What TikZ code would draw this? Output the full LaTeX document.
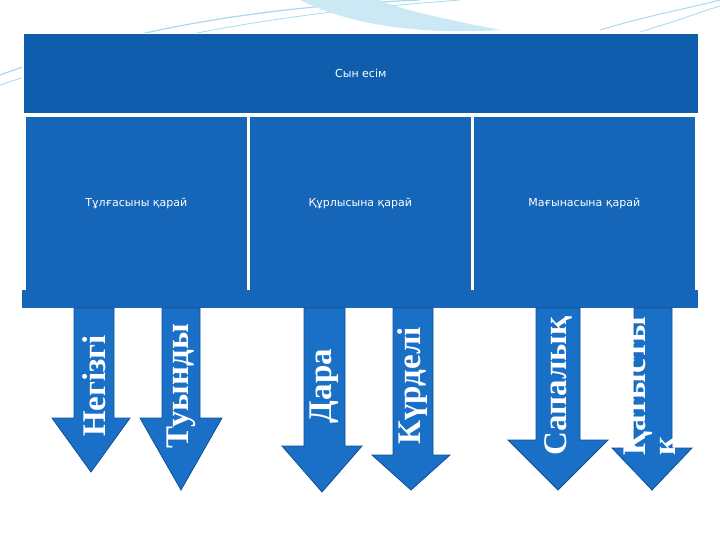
\documentclass[tikz,border=0pt]{standalone}
\usepackage{fontspec}
\setmainfont{Liberation Serif}
\newfontfamily\headfont{DejaVu Sans}
\definecolor{boxblue}{HTML}{1565B8}
\definecolor{topblue}{HTML}{0F5EAE}
\definecolor{arrowblue}{HTML}{1A70C6}
\definecolor{arrowedge}{HTML}{0F4F96}
\definecolor{swoosh}{HTML}{A9D8EE}
\newcommand{\downarr}[8]{%
  \draw [arrow] (#1,308) -- (#1,#5) -- (#3,#5) -- ({(#3+#4)/2},#6) -- (#4,#5)
    -- (#2,#5) -- (#2,308) -- cycle;
  \node [word] (#7) at ({(#1+#2)/2},386) {#8};}

\begin{document}
\begin{tikzpicture}[x=1pt, y=-1pt,
    box/.style={draw=white, line width=1.5pt, fill=boxblue, text=white,
      font=\headfont\fontsize{11}{13}\selectfont},
    arrow/.style={fill=arrowblue, draw=arrowedge, line width=0.8pt},
    word/.style={rotate=90, text=white, font=\bfseries\fontsize{33}{30}\selectfont, align=left}]
  \useasboundingbox (0,0) rectangle (720,540);
  % decorative swooshes
  \draw [swoosh, line width=1.2pt] (0,75) .. controls (150,20) and (300,5) .. (420,0);
  \draw [swoosh, line width=0.8pt] (0,85) .. controls (180,25) and (330,10) .. (460,0);
  \fill [swoosh!60] (300,0) .. controls (350,25) and (420,35) .. (500,30)
    .. controls (450,20) and (400,10) .. (380,0) -- cycle;
  \draw [swoosh, line width=1pt] (600,30) .. controls (650,15) and (690,8) .. (720,0);
  \draw [swoosh, line width=0.8pt] (640,32) .. controls (680,20) and (700,12) .. (720,6);

  % header boxes
  \node [box, fill=topblue, minimum width=676pt, minimum height=80pt, anchor=north west] (sun) at (22,33) {Сын есім};
  \node [box, minimum width=223pt, minimum height=174pt, anchor=north west] (tulga) at (24,116) {Тұлғасыны қарай};
  \node [box, minimum width=223pt, minimum height=174pt, anchor=north west] (qurly) at (248,116) {Құрлысына қарай};
  \node [box, minimum width=223pt, minimum height=174pt, anchor=north west] (magyna) at (472,116) {Мағынасына қарай};
  \fill [boxblue] (22,290) rectangle (698,308);

  % arrows
  \downarr{74}{114}{52}{130}{418}{472}{negizgi}{Негізгі}
  \downarr{162}{200}{140}{222}{418}{490}{tuyndy}{Туынды}
  \downarr{304}{345}{282}{362}{446}{492}{dara}{Дара}
  \downarr{393}{433}{372}{450}{455}{490}{kurdeli}{Күрделі}
  \downarr{536}{580}{508}{608}{440}{490}{sapalyq}{Сапалық}
  \downarr{634}{672}{612}{692}{448}{490}{qatysty}{Қатысты\\қ}
\end{tikzpicture}
\end{document}
